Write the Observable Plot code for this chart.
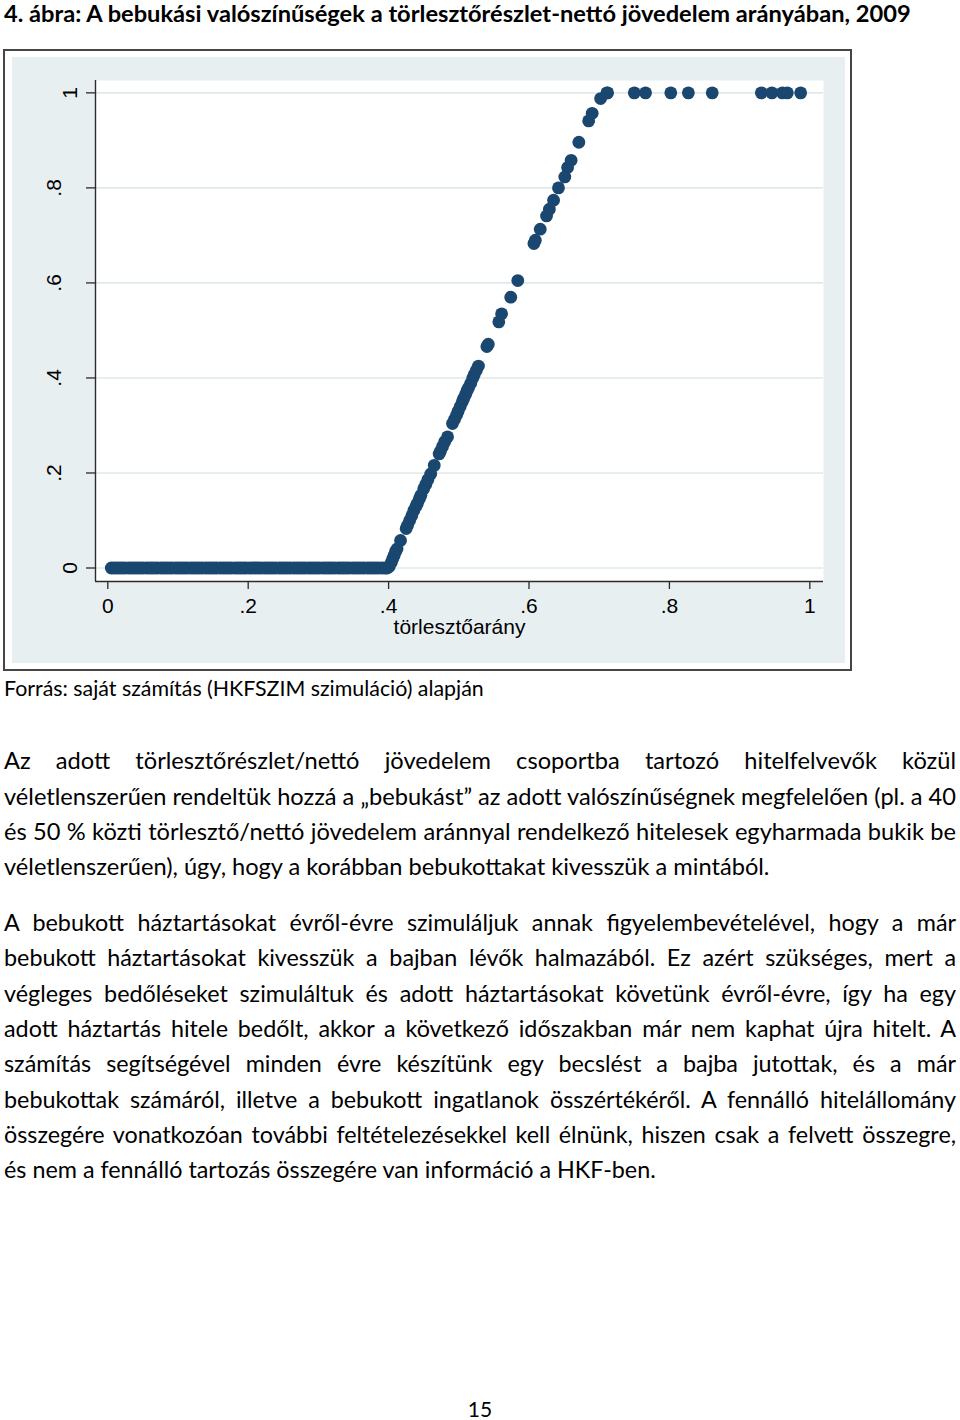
<!DOCTYPE html>
<html>
<head>
<meta charset="utf-8">
<script src="https://cdn.jsdelivr.net/npm/d3@7"></script>
<script src="https://cdn.jsdelivr.net/npm/@observablehq/plot@0.6"></script>
<style>
  html, body { margin: 0; padding: 0; background: #fff; }
  #page { position: relative; width: 960px; height: 1420px; overflow: hidden; background: #fff; color: #000; }
  .line { position: absolute; left: 4px; white-space: nowrap; font-family: Lato, "Noto Sans", sans-serif; line-height: 1; }
  .just { width: 952px; text-align: justify; text-align-last: justify; white-space: normal; }
  .probe { display: inline-block; width: 0; height: 0; vertical-align: baseline; }
  #chartbox { position: absolute; left: 3px; top: 49px; border: 2px solid #454545; background: #fff;
              padding: 6px 5px 6px 7px; line-height: 0; }
</style>
</head>
<body>
<div id="page"></div>
<script>
// ---------------- data ----------------
const xTicks = [0, 0.2, 0.4, 0.6, 0.8, 1];
const xTickLabels = ["0", ".2", ".4", ".6", ".8", "1"];
const yTicks = [0, 0.2, 0.4, 0.6, 0.8, 1];
const yTickLabels = ["0", ".2", ".4", ".6", ".8", "1"];
const xLabel = "törlesztőarány";

// törlesztőarány values whose default probability is 0 (dense band)
const bandRatio = [0.005, 0.009, 0.013, 0.017, 0.021, 0.025, 0.03, 0.034, 0.038, 0.042, 0.046, 0.05,
  0.055, 0.059, 0.063, 0.067, 0.071, 0.076, 0.08, 0.084, 0.088, 0.092, 0.097, 0.101, 0.105, 0.109,
  0.113, 0.118, 0.122, 0.126, 0.13, 0.134, 0.139, 0.143, 0.147, 0.151, 0.155, 0.16, 0.164, 0.168,
  0.172, 0.176, 0.181, 0.185, 0.189, 0.193, 0.197, 0.202, 0.206, 0.21, 0.214, 0.218, 0.223, 0.227,
  0.231, 0.235, 0.239, 0.244, 0.248, 0.252, 0.256, 0.26, 0.265, 0.269, 0.273, 0.277, 0.281, 0.286,
  0.29, 0.294, 0.298, 0.302, 0.307, 0.311, 0.315, 0.319, 0.323, 0.328, 0.332, 0.336, 0.34, 0.344,
  0.349, 0.353, 0.357, 0.361, 0.365, 0.37, 0.374, 0.378, 0.382, 0.386, 0.391, 0.395, 0.398];

// rising part and the top at probability 1
const rampRatio = [0.401, 0.404, 0.406, 0.408, 0.41, 0.412, 0.417, 0.425, 0.427, 0.43, 0.433, 0.436,
  0.439, 0.441, 0.444, 0.446, 0.45, 0.453, 0.456, 0.46, 0.465, 0.472, 0.474, 0.477, 0.48, 0.484,
  0.491, 0.494, 0.497, 0.499, 0.502, 0.505, 0.507, 0.51, 0.512, 0.514, 0.517, 0.52, 0.522, 0.525,
  0.528, 0.54, 0.542, 0.557, 0.561, 0.574, 0.584, 0.607, 0.609, 0.616, 0.625, 0.629, 0.635, 0.642,
  0.651, 0.655, 0.66, 0.671, 0.685, 0.69, 0.702, 0.711, 0.712, 0.75, 0.766, 0.802, 0.827, 0.861,
  0.931, 0.946, 0.961, 0.968, 0.987];
const rampProb = [0.003, 0.012, 0.02, 0.027, 0.035, 0.04, 0.058, 0.083, 0.09, 0.1, 0.11, 0.121,
  0.13, 0.136, 0.146, 0.153, 0.167, 0.176, 0.186, 0.198, 0.216, 0.24, 0.246, 0.256, 0.266, 0.276,
  0.304, 0.313, 0.322, 0.33, 0.34, 0.35, 0.357, 0.366, 0.374, 0.38, 0.389, 0.4, 0.407, 0.416,
  0.425, 0.466, 0.471, 0.518, 0.535, 0.57, 0.605, 0.683, 0.69, 0.713, 0.741, 0.755, 0.774, 0.8,
  0.823, 0.843, 0.858, 0.896, 0.941, 0.957, 0.988, 1, 1, 1, 1, 1, 1, 1,
  1, 1, 1, 1, 1];

const titleText = "4. ábra: A bebukási valószínűségek a törlesztőrészlet-nettó jövedelem arányában, 2009";
const sourceText = "Forrás: saját számítás (HKFSZIM szimuláció) alapján";
const para1 = [
  "Az adott törlesztőrészlet/nettó jövedelem csoportba tartozó hitelfelvevők közül",
  "véletlenszerűen rendeltük hozzá a „bebukást” az adott valószínűségnek megfelelően (pl. a 40",
  "és 50 % közti törlesztő/nettó jövedelem aránnyal rendelkező hitelesek egyharmada bukik be",
  "véletlenszerűen), úgy, hogy a korábban bebukottakat kivesszük a mintából."
];
const para2 = [
  "A bebukott háztartásokat évről-évre szimuláljuk annak figyelembevételével, hogy a már",
  "bebukott háztartásokat kivesszük a bajban lévők halmazából. Ez azért szükséges, mert a",
  "végleges bedőléseket szimuláltuk és adott háztartásokat követünk évről-évre, így ha egy",
  "adott háztartás hitele bedőlt, akkor a következő időszakban már nem kaphat újra hitelt. A",
  "számítás segítségével minden évre készítünk egy becslést a bajba jutottak, és a már",
  "bebukottak számáról, illetve a bebukott ingatlanok összértékéről. A fennálló hitelállomány",
  "összegére vonatkozóan további feltételezésekkel kell élnünk, hiszen csak a felvett összegre,",
  "és nem a fennálló tartozás összegére van információ a HKF-ben."
];
const pageNumber = "15";

// ---------------- chart ----------------
const points = bandRatio.map(x => ({ratio: x, prob: 0}))
  .concat(rampRatio.map((x, i) => ({ratio: x, prob: rampProb[i]})));

const xDomain = [-0.0175, 1.0195];
const yDomain = [-0.0284, 1.026];
const axisColor = "#2b2b2b";
const chartFont = '"Liberation Sans", Arial, sans-serif';

const chart = Plot.plot({
  width: 833,
  height: 606,
  marginLeft: 83,
  marginRight: 22,
  marginTop: 23,
  marginBottom: 82,
  x: {domain: xDomain},
  y: {domain: yDomain},
  style: {background: "#e8eff1", fontFamily: chartFont, fontSize: "21px", color: "#000", overflow: "visible"},
  marks: [
    Plot.frame({fill: "#ffffff", stroke: "none"}),
    Plot.gridY(yTicks, {stroke: "#dfe8eb", strokeOpacity: 1, strokeWidth: 1.6}),
    Plot.dot(points, {x: "ratio", y: "prob", r: 6.4, fill: "#1a476f", stroke: "none"}),
    Plot.ruleX([xDomain[0]], {stroke: axisColor, strokeWidth: 1.4}),
    Plot.ruleY([yDomain[0]], {stroke: axisColor, strokeWidth: 1.4}),
    Plot.axisX({ticks: xTicks, tickFormat: d => xTickLabels[xTicks.indexOf(d)], tickSize: 8, tickPadding: 9,
      stroke: axisColor, strokeWidth: 1.3, fontSize: 21, label: null}),
    Plot.axisY({ticks: yTicks, tickFormat: () => "", tickSize: 9, stroke: axisColor, strokeWidth: 1.3, label: null}),
    Plot.text(yTicks.filter(d => yTickLabels[yTicks.indexOf(d)].length === 1), {
      x: xDomain[0], y: d => d, text: d => yTickLabels[yTicks.indexOf(d)],
      rotate: -90, dx: -25, textAnchor: "middle", lineAnchor: "middle", fontSize: 21, fill: "#000"}),
    Plot.text(yTicks.filter(d => yTickLabels[yTicks.indexOf(d)].length > 1), {
      x: xDomain[0], y: d => d, text: d => yTickLabels[yTicks.indexOf(d)],
      rotate: -90, dx: -41, textAnchor: "middle", lineAnchor: "middle", fontSize: 21, fill: "#000"}),
    Plot.text([xLabel], {frameAnchor: "bottom", dy: 38, lineAnchor: "top", textAnchor: "middle", fontSize: 21, fill: "#000"})
  ]
});

const page = document.getElementById("page");
const box = document.createElement("div");
box.id = "chartbox";
box.appendChild(chart);
page.appendChild(box);

// ---------------- page text ----------------
function makeLine(text, cls, size, weight, lh) {
  const el = document.createElement("div");
  el.className = "line" + (cls ? " " + cls : "");
  el.style.fontSize = size + "px";
  if (weight) el.style.fontWeight = weight;
  if (lh) el.style.lineHeight = lh;
  const probe = document.createElement("span");
  probe.className = "probe";
  el.appendChild(probe);
  el.appendChild(document.createTextNode(text));
  page.appendChild(el);
  return el;
}
function naturalWidth(text, size, weight) {
  const el = document.createElement("span");
  el.className = "line";
  el.style.fontSize = size + "px";
  if (weight) el.style.fontWeight = weight;
  el.textContent = text;
  page.appendChild(el);
  const w = el.getBoundingClientRect().width;
  page.removeChild(el);
  return w;
}
function fitSize(text, target, weight) {
  const base = 20;
  return base * target / naturalWidth(text, base, weight);
}
function placeBaseline(el, baseline) {
  el.style.top = "0px";
  const probe = el.querySelector(".probe");
  const off = probe.getBoundingClientRect().top - el.getBoundingClientRect().top;
  el.style.top = (baseline - off) + "px";
}

// title
const titleSize = fitSize(titleText, 907, "700");
placeBaseline(makeLine(titleText, "", titleSize, "700", "0.8"), 21.5);

// source
const sourceSize = fitSize(sourceText, 480);
placeBaseline(makeLine(sourceText, "", sourceSize), 696);

// paragraphs
function paragraph(lines, lastTarget, baselines) {
  const size = fitSize(lines[lines.length - 1], lastTarget);
  lines.forEach((t, i) => {
    const last = i === lines.length - 1;
    let el;
    if (!last) {
      const w = naturalWidth(t, size);
      el = makeLine(t, "just", size);
      if (w > 951) el.style.letterSpacing = ((951 - w) / t.length) + "px";
    } else {
      el = makeLine(t, "", size);
    }
    placeBaseline(el, baselines[i]);
  });
}
paragraph(para1, 766, [769, 804.5, 840, 875]);
paragraph(para2, 652, [931, 966, 1001.5, 1037, 1072, 1107.5, 1143, 1178]);

// page number
const pn = makeLine(pageNumber, "", 21);
pn.style.left = "0px";
pn.style.width = "960px";
pn.style.textAlign = "center";
placeBaseline(pn, 1417);
</script>
</body>
</html>
